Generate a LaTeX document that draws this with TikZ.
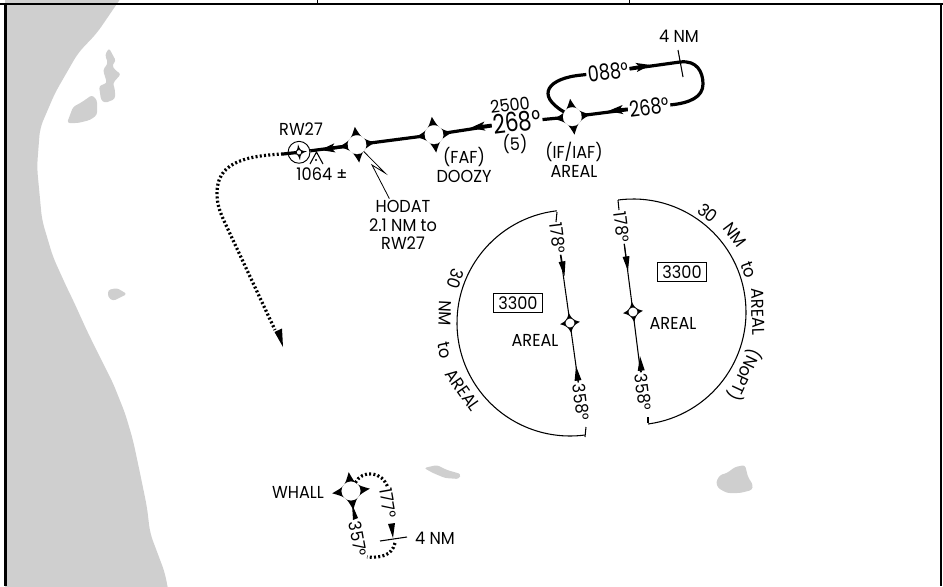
\documentclass[tikz,border=0pt]{standalone}
\usepackage{fontspec}
\setmainfont[FakeStretch=0.93]{Poppins}
\newfontfamily\numfont[FakeStretch=0.8]{Poppins}
\usepackage{tikz}
\usetikzlibrary{arrows.meta}

\newcommand{\starmark}[3]{\fill[black,rotate around={7:(#1)}] (#1) ++(0,-#2) .. controls +(#3,#2-#3) and +(-#2+#3,-#3) .. ++(#2,#2) .. controls +(-#2+#3,#3) and +(#3,-#2+#3) .. ++(-#2,#2) .. controls +(-#3,-#2+#3) and +(#2-#3,#3) .. ++(-#2,-#2) .. controls +(#2-#3,-#3) and +(-#3,#2-#3) .. ++(#2,-#2) -- cycle;}

\tikzset{
  labeltext/.style={align=center,inner sep=1pt,font=\fontsize{13}{14}\selectfont},
  bigtext/.style={align=center,inner sep=1pt,font=\numfont\fontsize{16.5}{18}\selectfont},
  hugetext/.style={align=center,inner sep=1pt,font=\numfont\fontsize{20}{22}\selectfont},
  altbox/.style={draw=black,line width=0.6pt,minimum width=37pt,minimum height=14pt,inner sep=0pt,font=\fontsize{13}{13}\selectfont},
  bigfix/.style={shape=circle,draw=white,fill=white,line width=0.2pt,minimum size=14pt,inner sep=0pt},
  smallfix/.style={shape=circle,draw=black,fill=white,line width=0.5pt,minimum size=7.5pt,inner sep=0pt},
  trackline/.style={draw=black,line width=2.4pt},
  thinline/.style={draw=black,line width=0.8pt},
  dotline/.style={draw=black,line width=2.4pt,dash pattern=on 1.5pt off 1.7pt},
  headtip/.style={-{Stealth[length=11pt,width=6.5pt,inset=2.5pt]}},
  solidtip/.style={-{Stealth[length=11pt,width=5pt,inset=0pt]}},
  land/.style={fill=black!19,draw=none,rounded corners=2pt}
}

\begin{document}
\begin{tikzpicture}[x=0.75pt,y=-0.75pt]
\useasboundingbox (0,0) rectangle (943,586);

% land
\path[land,rounded corners=6pt] (5,-8) -- (125,-8) -- (97,33) -- (78,53) -- (55,93) -- (40,128) -- (37,167) -- (42,220) -- (53,257) -- (68,290) -- (73,300) -- (88,333) -- (100,357) -- (113,383) -- (125,413) -- (133,440) -- (140,473) -- (147,507) -- (150,533) -- (165,573) -- (170,600) -- (5,600) -- cycle;
\path[land] (109,48) -- (105,55) -- (108,63) -- (103,70) -- (107,83) -- (99,86) -- (101,100) -- (105,103) -- (115,99) -- (115,90) -- (113,83) -- (121,74) -- (115,70) -- (112,65) -- (116,61) -- cycle;
\path[land] (92,95) -- (97,100) -- (97,115) -- (90,120) -- (78,123) -- (67,123) -- (73,107) -- (82,102) -- cycle;
\path[land] (108,290) -- (117,288) -- (127,294) -- (113,301) -- (108,297) -- cycle;
\path[land] (424,468) -- (437,465) -- (447,470) -- (461,474) -- (459,479) -- (445,478) -- (433,473) -- cycle;
\path[land] (716,482) -- (720,475) -- (727,473) -- (735,467) -- (745,465) -- (748,477) -- (753,485) -- (752,490) -- (740,493) -- (727,493) -- (718,488) -- cycle;

% frame
\draw[line width=1.6pt] (0,4) -- (943,4);
\draw[line width=1.6pt] (5.5,4) -- (5.5,586);
\draw[line width=1.6pt] (940.7,4) -- (940.7,586);
\draw[line width=0.8pt] (317.3,0) -- (317.3,4);
\draw[line width=0.8pt] (629.3,0) -- (629.3,4);

% fixes
\starmark{572.3,116.7}{18}{5.6}
\starmark{434,134.7}{18}{5.6}
\starmark{357,144.7}{18}{5.6}
\starmark{351,491}{19}{5.6}
\starmark{570,323}{10}{3}
\starmark{633,312}{10}{3}
\node[bigfix] (areal) at (572.3,116.7) {};
\node[bigfix] (doozy) at (434,134.7) {};
\node[bigfix] (hodat) at (357,144.7) {};
\node[bigfix] (whall) at (351,491) {};
\node[smallfix] (arealleft) at (570,323) {};
\node[smallfix] (arealright) at (633,312) {};

% airport
\node[shape=circle,draw=black,line width=0.7pt,minimum size=16.4pt,inner sep=0pt] (rwring) at (299,152.3) {};
\starmark{299,152.3}{8}{1.5}
\node[smallfix,minimum size=4pt] (rw) at (299,152.3) {};

% labels on the track
\node[hugetext,rotate=7] (crsmain) at (517,122) {268°};
\node[labeltext,rotate=7] (alt) at (510,105) {2500};
\node[labeltext] (dist) at (515,144) {(5)};
\node[bigtext,rotate=7] (crsout) at (608,72) {088°};
\node[bigtext,rotate=7] (crsin) at (649,107) {268°};
\node[labeltext] (holddist) at (679,36) {4 NM};
\node[labeltext] (arealname) at (574,160) {(IF/IAF)\\AREAL};
\node[labeltext] (doozyname) at (464,165) {(FAF)\\DOOZY};
\node[labeltext] (rwname) at (301,129) {RW27};
\node[labeltext] (obst) at (322,174.5) {1064 ±};
\node[labeltext] (hodatname) at (403,225) {HODAT\\2.1 NM to\\RW27};

% track
\coordinate (tipa) at (470,128);
\coordinate (tipb) at (608,111);
\coordinate (tipc) at (320,150);
\coordinate (tipd) at (651,65);
\coordinate (holda) at (582,75);
\coordinate (holdb) at (680,62);
\coordinate (tick1) at (678,50);
\coordinate (tick2) at (683,77);
\path[trackline] (areal) -- (crsmain);
\path[trackline] (areal) -- (crsin);
\path[trackline] (doozy) -- (crsmain);
\path[trackline] (doozy) -- (hodat);
\path[trackline] (hodat) -- (rwring);
\path[trackline] (areal) .. controls (535,95) and (548,78) .. (holda) -- (crsout);
\path[trackline] (crsout) -- (holdb) .. controls (697,60) and (703,72) .. (703,84) .. controls (703,97) and (690,103) .. (crsin);
\path[trackline,headtip] (crsmain) -- (tipa);
\path[trackline,headtip] (crsin) -- (tipb);
\path[trackline,headtip] (hodat) -- (tipc);
\path[trackline,headtip] (crsout) -- (tipd);
\path[thinline] (tick1) -- (tick2);

% obstacle
\coordinate (obsta) at (316.5,152);
\coordinate (obstb) at (310,164);
\coordinate (obstc) at (323,164);
\path[thinline] (obstb) -- (obsta) -- (obstc);
\fill (316,160) circle (0.9pt);

% hodat leader
\coordinate (leada) at (385,173);
\coordinate (leadb) at (372,165);
\path[draw=black,line width=0.6pt] (hodat) -- (leada) -- (leadb) -- (hodatname);

% missed approach
\coordinate (missa) at (283,154);
\coordinate (missb) at (225,223);
\path[trackline] (missa) -- (rw);
\path[dotline] (missa) .. controls (240,156) and (217,165) .. (217,193) .. controls (217,205) and (220,212) .. (missb) -- (275,330);
\path[fill=black] (283,347) -- (274.5,332) -- (282,328.5) -- cycle;

% left sector
\node[labeltext,rotate=-83] (leftcrsa) at (558,238) {178°};
\node[labeltext,rotate=-83] (leftcrsb) at (581,402) {358°};
\node[labeltext] (leftname) at (535,340) {AREAL};
\node[altbox] (leftalt) at (518,303) {3300};
\path[thinline] (557,212) -- (556,222);
\draw[thinline] (570,323) ++(263.3:113) arc[start angle=263.3,end angle=82.5,radius=113];
\path[thinline] (585,437) -- (586,427);
\path[thinline,solidtip] (leftcrsa) -- (564.5,276);
\path[thinline] (leftcrsa) -- (arealleft);
\path[thinline,solidtip] (leftcrsb) -- (576,366);
\path[thinline] (leftcrsb) -- (arealleft);
\node[labeltext,rotate=-108] (leftarca) at (455,279) {30};
\node[labeltext,rotate=-93] (leftarcb) at (445,313) {NM};
\node[labeltext,rotate=-78] (leftarcc) at (445,350) {to};
\node[labeltext,rotate=-55] (leftarcd) at (463,390) {AREAL};

% right sector
\node[labeltext,rotate=-83] (rightcrsa) at (622,227) {178°};
\node[labeltext,rotate=-83] (rightcrsb) at (643,392) {358°};
\node[labeltext] (rightname) at (673,323) {AREAL};
\node[altbox] (rightalt) at (682,272) {3300};
\path[thinline] (618,200) -- (619,210);
\draw[thinline] (633,312) ++(262.4:113) arc[start angle=262.4,end angle=442.3,radius=113];
\path[thinline] (648,423) -- (648,417);
\path[thinline,solidtip] (rightcrsa) -- (628,271);
\path[thinline] (rightcrsa) -- (arealright);
\path[thinline,solidtip] (rightcrsb) -- (640,356);
\path[thinline] (rightcrsb) -- (arealright);
\node[labeltext,rotate=-37] (rightarca) at (708,213) {30};
\node[labeltext,rotate=-53] (rightarcb) at (735,235) {NM};
\node[labeltext,rotate=-70] (rightarcc) at (749,270) {to};
\node[labeltext,rotate=-88] (rightarcd) at (758,312) {AREAL};
\node[labeltext,rotate=-115] (rightarce) at (745,375) {(NoPT)};

% whall hold
\node[labeltext] (whallname) at (298,492) {WHALL};
\node[labeltext,rotate=-80] (whallout) at (388,503) {177°};
\node[labeltext,rotate=-80] (whallin) at (358,539) {357°};
\node[labeltext] (whalldist) at (435,538) {4 NM};
\coordinate (wtick1) at (380,541);
\coordinate (wtick2) at (407,537);
\path[thinline] (wtick1) -- (wtick2);
\path[dotline] (whall) .. controls (362,470) and (382,470) .. (388,488);
\path[dotline] (395,543) .. controls (392,556) and (380,558) .. (367,557);
\path[fill=black] (393,538) -- (388,524) -- (395,523) -- cycle;
\path[fill=black] (352,504) -- (353,520) -- (358,518) -- cycle;
\end{tikzpicture}
\end{document}
